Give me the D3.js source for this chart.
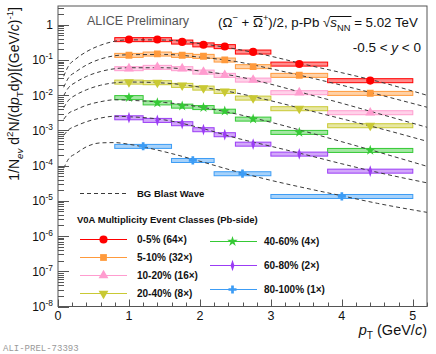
<!DOCTYPE html>
<html>
<head>
<meta charset="utf-8">
<script src="https://cdn.jsdelivr.net/npm/d3@7"></script>
<style>
  body { margin: 0; background: #fff; }
  svg { display: block; font-family: "Liberation Sans", Arial, sans-serif; }
</style>
</head>
<body>
<div id="chart"></div>
<script>
// pT bins (GeV/c) and mean pT of each bin
const binEdges = [0.8, 1.2, 1.6, 1.9, 2.2, 2.5, 3.0, 3.8, 5.0];
const ptMean = [1.0, 1.4, 1.75, 2.05, 2.35, 2.75, 3.4, 4.4];
const binEdgesPeriph = [0.8, 1.6, 2.2, 3.0, 5.0];
const ptMeanPeriph = [1.2, 1.9, 2.6, 4.0];

const classLabels = ['0-5%', '5-10%', '10-20%', '20-40%', '40-60%', '60-80%', '80-100%'];
const scaleFactors = [64, 32, 16, 8, 4, 2, 1];

// unscaled yields 1/Nev d2N/(dpT dy)
const yield0005 = [5.94e-3, 5.94e-3, 5.07e-3, 4.22e-3, 3.76e-3, 2.64e-3, 1.20e-3, 4.06e-4];
const yield0510 = [4.25e-3, 4.63e-3, 4.25e-3, 3.98e-3, 3.13e-3, 2.03e-3, 1.15e-3, 3.54e-4];
const yield1020 = [3.56e-3, 3.88e-3, 3.56e-3, 2.85e-3, 2.30e-3, 1.69e-3, 7.41e-4, 2.00e-4];
const yield2040 = [2.96e-3, 2.85e-3, 2.39e-3, 2.00e-3, 1.61e-3, 1.04e-3, 5.20e-4, 1.71e-4];
const yield4060 = [2.15e-3, 1.52e-3, 1.23e-3, 1.12e-3, 8.84e-4, 5.27e-4, 2.21e-4, 6.80e-5];
const yield6080 = [1.15e-3, 9.68e-4, 7.80e-4, 5.27e-4, 3.80e-4, 2.05e-4, 1.07e-4, 3.51e-5];
const yield80100 = [3.54e-4, 1.41e-4, 5.93e-5, 1.34e-5];
const sysRel = 0.13;

// BG blast wave curves (unscaled)
const bwPt = [0.08, 0.15, 0.25, 0.4, 0.6, 0.8, 1.0, 1.5, 2.0, 2.5, 3.0, 3.5, 4.0, 4.5, 5.2];
const bw0005 = [5.38e-4, 1.07e-3, 1.66e-3, 2.67e-3, 4.09e-3, 5.31e-3, 5.82e-3, 5.74e-3, 4.54e-3, 3.21e-3, 1.99e-3, 1.14e-3, 6.77e-4, 3.88e-4, 1.55e-4];
const bw0510 = [5.24e-4, 9.82e-4, 1.43e-3, 2.24e-3, 3.32e-3, 4.11e-3, 4.39e-3, 4.48e-3, 3.75e-3, 2.83e-3, 1.76e-3, 1.04e-3, 5.97e-4, 3.32e-4, 1.42e-4];
const bw1020 = [6.05e-4, 1.03e-3, 1.45e-3, 2.12e-3, 2.93e-3, 3.52e-3, 3.75e-3, 3.75e-3, 3.04e-3, 2.18e-3, 1.28e-3, 6.85e-4, 3.68e-4, 1.91e-4, 7.66e-5];
const bw2040 = [5.48e-4, 9.02e-4, 1.26e-3, 1.77e-3, 2.39e-3, 2.81e-3, 2.95e-3, 2.76e-3, 2.12e-3, 1.46e-3, 8.67e-4, 4.81e-4, 2.67e-4, 1.48e-4, 6.13e-5];
const bw4060 = [5.17e-4, 7.65e-4, 9.62e-4, 1.29e-3, 1.63e-3, 1.85e-3, 1.79e-3, 1.55e-3, 1.16e-3, 7.41e-4, 4.25e-4, 2.28e-4, 1.19e-4, 6.17e-5, 2.39e-5];
const bw6080 = [3.63e-4, 5.23e-4, 6.63e-4, 8.78e-4, 1.12e-3, 1.26e-3, 1.22e-3, 9.94e-4, 5.93e-4, 3.08e-4, 1.77e-4, 1.01e-4, 5.63e-5, 3.23e-5, 1.62e-5];
const bw80100 = [8.38e-5, 1.56e-4, 2.19e-4, 3.42e-4, 4.42e-4, 4.50e-4, 4.03e-4, 2.47e-4, 1.33e-4, 6.89e-5, 3.82e-5, 2.27e-5, 1.39e-5, 8.49e-6, 4.71e-6];

const yTickLabels = ['10^-8', '10^-7', '10^-6', '10^-5', '10^-4', '10^-3', '10^-2', '10^-1', '1'];
const xTickLabels = ['0', '1', '2', '3', '4', '5'];

// styles
const colors = ['#ff0000', '#ff9a3c', '#ff9ccf', '#c9c934', '#35c935', '#9b3cf5', '#3c9cf5'];
const symbols = ['circle', 'square', 'triUp', 'triDown', 'star', 'diamond', 'cross'];

const W = 436, H = 354;
const frame = {left: 58, right: 427, top: 6, bottom: 306.5};

const svg = d3.select('#chart').append('svg')
    .attr('width', W)
    .attr('height', H);

const x = d3.scaleLinear().domain([0, 5.2]).range([frame.left, frame.right]);
const y = d3.scaleLog().domain([1e-8, 3.4]).range([frame.bottom, frame.top]);

svg.append('defs').append('clipPath').attr('id', 'clip')
  .append('rect')
    .attr('x', frame.left).attr('y', frame.top)
    .attr('width', frame.right - frame.left)
    .attr('height', frame.bottom - frame.top);

// rich text helper: parts = [{t, i, v:'sup'|'sub'}]
function rich(sel, parts, fs) {
  let cur = 0;
  const spans = [];
  parts.forEach(p => {
    const shift = p.v === 'sup' ? -0.42 * fs : p.v === 'sub' ? 0.3 * fs : 0;
    const ts = sel.append('tspan').text(p.t).attr('dy', shift - cur);
    cur = shift;
    if (p.v) ts.attr('font-size', fs * 0.7);
    if (p.i) ts.attr('font-style', 'italic');
    spans.push(ts);
  });
  return spans;
}

function markerPath(kind, size) {
  switch (kind) {
    case 'circle': return d3.symbol(d3.symbolCircle, size)();
    case 'square': return d3.symbol(d3.symbolSquare, size)();
    case 'triUp': return d3.symbol(d3.symbolTriangle, size)();
    case 'triDown': return d3.symbol(d3.symbolTriangle, size)();
    case 'star': return d3.symbol(d3.symbolStar, size)();
    case 'diamond': return d3.symbol(d3.symbolDiamond, size)();
    case 'cross': return d3.symbol(d3.symbolCross, size)();
  }
}

function drawMarker(g, kind, color, cx, cy) {
  const sizes = {circle: 52, square: 46, triUp: 42, triDown: 42, star: 34, diamond: 30, cross: 36};
  let t = `translate(${cx},${cy})`;
  if (kind === 'triDown') t += ' rotate(180)';
  if (kind === 'diamond') t += ' scale(0.65,1.15)';
  g.append('path')
      .attr('d', markerPath(kind, sizes[kind]))
      .attr('transform', t)
      .attr('fill', color);
}

const classes = [
  {edges: binEdges, pt: ptMean, vals: yield0005, bw: bw0005},
  {edges: binEdges, pt: ptMean, vals: yield0510, bw: bw0510},
  {edges: binEdges, pt: ptMean, vals: yield1020, bw: bw1020},
  {edges: binEdges, pt: ptMean, vals: yield2040, bw: bw2040},
  {edges: binEdges, pt: ptMean, vals: yield4060, bw: bw4060},
  {edges: binEdges, pt: ptMean, vals: yield6080, bw: bw6080},
  {edges: binEdgesPeriph, pt: ptMeanPeriph, vals: yield80100, bw: bw80100}
];

const plot = svg.append('g').attr('clip-path', 'url(#clip)');

// systematic boxes
classes.forEach((c, k) => {
  const s = scaleFactors[k];
  c.vals.forEach((v, i) => {
    const top = y(v * s * (1 + sysRel));
    const bot = y(v * s * (1 - sysRel));
    plot.append('rect')
        .attr('x', x(c.edges[i]))
        .attr('y', top)
        .attr('width', x(c.edges[i + 1]) - x(c.edges[i]))
        .attr('height', bot - top)
        .attr('fill', colors[k])
        .attr('fill-opacity', 0.45)
        .attr('stroke', colors[k])
        .attr('stroke-width', 1);
  });
});

// blast wave curves
const line = d3.line().curve(d3.curveMonotoneX);
classes.forEach((c, k) => {
  const s = scaleFactors[k];
  plot.append('path')
      .attr('d', line(bwPt.map((p, i) => [x(p), y(c.bw[i] * s)])))
      .attr('fill', 'none')
      .attr('stroke', '#3a3a3a')
      .attr('stroke-width', 1)
      .attr('stroke-dasharray', '4,3');
});

// markers
classes.forEach((c, k) => {
  const s = scaleFactors[k];
  c.vals.forEach((v, i) => drawMarker(plot, symbols[k], colors[k], x(c.pt[i]), y(v * s)));
});

// frame
svg.append('rect')
    .attr('x', frame.left).attr('y', frame.top)
    .attr('width', frame.right - frame.left)
    .attr('height', frame.bottom - frame.top)
    .attr('fill', 'none')
    .attr('stroke', '#555')
    .attr('stroke-width', 1);

// y axis ticks (inside)
const axis = svg.append('g').attr('stroke', '#555').attr('stroke-width', 1);
const decades = d3.range(-8, 1).map(e => Math.pow(10, e));
y.ticks().forEach(t => {
  const isMajor = decades.some(d => Math.abs(t / d - 1) < 1e-6);
  axis.append('line')
      .attr('x1', frame.left).attr('x2', frame.left + (isMajor ? 11 : 6))
      .attr('y1', Math.round(y(t)) + 0.5).attr('y2', Math.round(y(t)) + 0.5);
});
// x axis ticks
d3.range(0, 27).map(i => i * 0.2).forEach(t => {
  if (t > 5.2) return;
  const isMajor = Math.abs(t - Math.round(t)) < 1e-6;
  axis.append('line')
      .attr('x1', Math.round(x(t)) + 0.5).attr('x2', Math.round(x(t)) + 0.5)
      .attr('y1', frame.bottom).attr('y2', frame.bottom - (isMajor ? 7 : 4));
});

// tick labels
yTickLabels.forEach((lab, i) => {
  const t = svg.append('text')
      .attr('x', 53)
      .attr('y', y(decades[i]) + 4.5)
      .attr('text-anchor', 'end')
      .attr('font-size', 12)
      .attr('fill', '#111');
  if (lab === '1') t.text('1');
  else rich(t, [{t: '10'}, {t: lab.split('^')[1], v: 'sup'}], 12);
});
xTickLabels.forEach((lab, i) => {
  svg.append('text')
      .attr('x', x(i))
      .attr('y', 320)
      .attr('text-anchor', 'middle')
      .attr('font-size', 12.5)
      .attr('fill', '#111')
      .text(lab);
});

// axis titles
const xt = svg.append('text')
    .attr('x', frame.right)
    .attr('y', 335)
    .attr('text-anchor', 'end')
    .attr('font-size', 14.5)
    .attr('fill', '#111');
rich(xt, [{t: 'p', i: true}, {t: 'T', v: 'sub'}, {t: ' (GeV/'}, {t: 'c', i: true}, {t: ')'}], 14.5);

const yt = svg.append('text')
    .attr('transform', 'translate(19,7) rotate(-90)')
    .attr('text-anchor', 'end')
    .attr('font-size', 14)
    .attr('fill', '#111');
rich(yt, [
  {t: '1/N'}, {t: 'ev', v: 'sub', i: true}, {t: ' d'}, {t: '2', v: 'sup'}, {t: 'N/(d'},
  {t: 'p', i: true}, {t: 'T', v: 'sub'}, {t: 'd'}, {t: 'y', i: true},
  {t: ')[(GeV/'}, {t: 'c', i: true}, {t: ')'}, {t: '-1', v: 'sup'}, {t: ']'}
], 14);

// texts in the frame
svg.append('text')
    .attr('x', 87).attr('y', 25)
    .attr('font-size', 12.5)
    .attr('fill', '#555')
    .text('ALICE Preliminary');

const title = svg.append('text')
    .attr('x', 218).attr('y', 27)
    .attr('font-size', 13.3)
    .attr('fill', '#111');
const tsp = rich(title, [
  {t: '(\u03A9'}, {t: '\u2212', v: 'sup'}, {t: ' + '}, {t: '\u03A9'}, {t: '+', v: 'sup'},
  {t: ')/2, p-Pb '}, {t: '\u221A'}, {t: 's', i: true}, {t: 'NN', v: 'sub'}, {t: ' = 5.02 TeV'}
], 13.3);
// overlines: anti-Omega and square root
const ob = tsp[3].node().getBBox();
svg.append('line')
    .attr('x1', ob.x + 0.5).attr('x2', ob.x + ob.width - 0.5)
    .attr('y1', ob.y + 1.5).attr('y2', ob.y + 1.5)
    .attr('stroke', '#111').attr('stroke-width', 1);
const rb = tsp[6].node().getBBox();
const nb = tsp[8].node().getBBox();
svg.append('line')
    .attr('x1', rb.x + rb.width - 1).attr('x2', nb.x + nb.width + 1)
    .attr('y1', rb.y + 1.5).attr('y2', rb.y + 1.5)
    .attr('stroke', '#111').attr('stroke-width', 1);

const rap = svg.append('text')
    .attr('x', 421).attr('y', 52)
    .attr('text-anchor', 'end')
    .attr('font-size', 13.5)
    .attr('fill', '#111');
rich(rap, [{t: '-0.5 < '}, {t: 'y', i: true}, {t: ' < 0'}], 13.5);

// legend
const leg = svg.append('g').attr('font-size', 9.5).attr('font-weight', 'bold').attr('fill', '#111');
leg.append('line')
    .attr('x1', 80).attr('x2', 127)
    .attr('y1', 193.5).attr('y2', 193.5)
    .attr('stroke', '#3a3a3a').attr('stroke-dasharray', '4,3');
leg.append('text').attr('x', 137).attr('y', 197).text('BG Blast Wave');
leg.append('text').attr('x', 77).attr('y', 223).text('V0A Multiplicity Event Classes (Pb-side)');

const legPos = [
  {lx: 80, mx: 103.5, tx: 137, y: 239.5},
  {lx: 80, mx: 103.5, tx: 137, y: 257.5},
  {lx: 80, mx: 103.5, tx: 137, y: 275.5},
  {lx: 80, mx: 103.5, tx: 137, y: 293.5},
  {lx: 210, mx: 232.5, tx: 264, y: 241.5},
  {lx: 210, mx: 232.5, tx: 264, y: 265.5},
  {lx: 210, mx: 232.5, tx: 264, y: 289.5}
];
classLabels.forEach((lab, k) => {
  const p = legPos[k];
  leg.append('line')
      .attr('x1', p.lx).attr('x2', p.lx + 47)
      .attr('y1', p.y).attr('y2', p.y)
      .attr('stroke', colors[k]).attr('stroke-width', 1);
  drawMarker(leg, symbols[k], colors[k], p.mx, p.y);
  leg.append('text')
      .attr('x', p.tx).attr('y', p.y + 3.5)
      .attr('font-size', 10)
      .text(`${lab} (${scaleFactors[k]}\u00D7)`);
});

svg.append('text')
    .attr('x', 3).attr('y', 351)
    .attr('font-family', '"Liberation Mono", "DejaVu Sans Mono", monospace')
    .attr('font-size', 9)
    .attr('fill', '#999')
    .text('ALI-PREL-73393');
</script>
</body>
</html>
